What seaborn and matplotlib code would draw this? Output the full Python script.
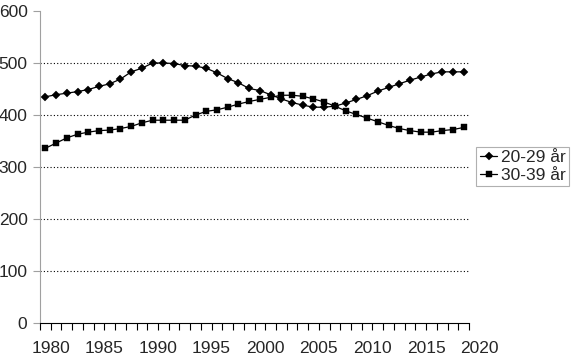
import numpy as np
import pandas as pd
import matplotlib
matplotlib.use("Agg")
import matplotlib.pyplot as plt
import seaborn as sns

# ---- data ----
years = list(range(1980, 2020))
age_20_29 = [435, 439, 442, 445, 449, 455, 460, 469, 483, 490,
             500, 500, 499, 495, 494, 490, 481, 470, 462, 451,
             447, 439, 431, 424, 419, 415, 415, 417, 423, 430,
             437, 446, 453, 460, 467, 473, 479, 483, 483, 483]
age_30_39 = [336, 346, 356, 363, 367, 370, 371, 374, 378, 385,
             390, 390, 390, 390, 400, 407, 410, 415, 421, 426,
             430, 434, 438, 438, 436, 431, 425, 417, 408, 401,
             394, 387, 380, 374, 370, 367, 367, 370, 372, 376]
series_names = ["20-29 år", "30-39 år"]
x_labels = ["1980", "1985", "1990", "1995", "2000", "2005", "2010", "2015", "2020"]
y_ticks = [0, 100, 200, 300, 400, 500, 600]

sns.set_style("white")
plt.rcParams['font.family'] = ['Liberation Sans', 'DejaVu Sans']
FS = 12.5

fig = plt.figure(figsize=(5.8, 3.57), dpi=100)
ax = fig.add_axes([40/580, 34/357, 429/580, 312/357])

pos = np.arange(len(years))
df = pd.DataFrame({"pos": pos, "year": years,
                   series_names[0]: age_20_29, series_names[1]: age_30_39})
long = df.melt(id_vars=["pos", "year"], var_name="serie", value_name="antal")

# gridlines (dotted) between bottom and top
ax.hlines(y_ticks[1:-1], -0.5, len(years) - 0.5, colors="black",
          linestyles=(0, (1, 2)), linewidth=0.8, zorder=1)

sns.lineplot(data=long[long.serie == series_names[0]], x="pos", y="antal",
             color="black", marker="D", markersize=3.8, markeredgewidth=0.3,
             markeredgecolor="black", linewidth=0.9, label=series_names[0], ax=ax, zorder=3)
sns.lineplot(data=long[long.serie == series_names[1]], x="pos", y="antal",
             color="black", marker="s", markersize=4.1, markeredgewidth=0.3,
             markeredgecolor="black", linewidth=0.9, label=series_names[1], ax=ax, zorder=3)

ax.set_xlim(-0.5, len(years) - 0.5)
ax.set_ylim(y_ticks[0], y_ticks[-1])
ax.set_xlabel("")
ax.set_ylabel("")

# y axis
ax.set_yticks(y_ticks)
ax.set_yticklabels([str(v) for v in y_ticks], fontsize=FS)
ax.tick_params(axis="y", direction="out", length=5, width=0.8, color="#a0a0a0", pad=4, left=True)

# x axis: ticks at category boundaries, labels every 5 categories
ax.set_xticks(np.arange(-0.5, len(years), 1))
ax.set_xticklabels([])
ax.tick_params(axis="x", direction="out", length=5, width=0.8, color="black", bottom=True)
for i, lab in enumerate(x_labels):
    ax.annotate(lab, xy=(i * 5 + 0.5, 0), xycoords=("data", "axes fraction"),
                xytext=(0, -21.5), textcoords="offset points",
                ha="center", va="baseline", fontsize=FS, annotation_clip=False)

for s in ["top", "right"]:
    ax.spines[s].set_visible(False)
ax.spines["left"].set_color("#a0a0a0")
ax.spines["left"].set_linewidth(0.8)
ax.spines["bottom"].set_color("black")
ax.spines["bottom"].set_linewidth(0.8)

leg = ax.legend(loc="center left", bbox_to_anchor=(476.5/580, 1 - 166.5/357),
                bbox_transform=fig.transFigure, frameon=True, fancybox=False,
                edgecolor="#b0b0b0", framealpha=1, fontsize=FS, borderpad=0.2,
                handlelength=1.0, handletextpad=0.2, labelspacing=0.15,
                borderaxespad=0)
leg.get_frame().set_linewidth(0.8)

fig.savefig("out.png", dpi=100)
